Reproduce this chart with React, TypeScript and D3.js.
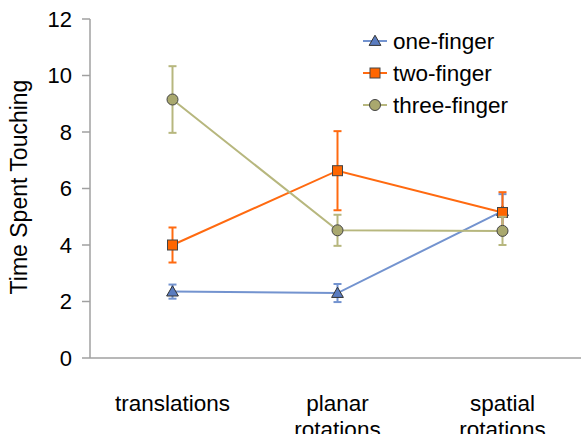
import React from "react";
import * as d3 from "d3";

const categories = ["translations", "planar rotations", "spatial rotations"];
const categoryLines = [["translations"], ["planar", "rotations"], ["spatial", "rotations"]];
const seriesNames = ["one-finger", "two-finger", "three-finger"];
const oneFinger = [2.35, 2.3, 5.2];
const oneFingerErr = [0.25, 0.32, 0.6];
const twoFinger = [4.0, 6.63, 5.15];
const twoFingerErr = [0.62, 1.4, 0.72];
const threeFinger = [9.15, 4.52, 4.5];
const threeFingerErr = [1.18, 0.55, 0.5];
const yTicks = [0, 2, 4, 6, 8, 10, 12];

const W = 581, H = 434;
const FONT = "'Liberation Sans', Arial, sans-serif";

const series = [
  { name: seriesNames[0], values: oneFinger, err: oneFingerErr, line: "#7393cf", fill: "#5a7cc0", shape: "triangle" },
  { name: seriesNames[1], values: twoFinger, err: twoFingerErr, line: "#ff6a10", fill: "#ff6600", shape: "square" },
  { name: seriesNames[2], values: threeFinger, err: threeFingerErr, line: "#b7b77e", fill: "#a9a86e", shape: "circle" },
];

function Marker({ shape, x, y, fill }: { shape: string; x: number; y: number; fill: string }) {
  if (shape === "square") return <rect x={x - 5} y={y - 5} width={10} height={10} fill={fill} stroke="#444" strokeWidth={1} />;
  if (shape === "circle") return <circle cx={x} cy={y} r={5.5} fill={fill} stroke="#444" strokeWidth={1} />;
  const s = d3.symbol(d3.symbolTriangle, 60)();
  return <path d={s || ""} transform={`translate(${x},${y + 1})`} fill={fill} stroke="#333" strokeWidth={1} />;
}

export default function App() {
  const x = d3.scaleBand().domain(categories).range([90, 585]).padding(0);
  const y = d3.scaleLinear().domain([0, 12]).range([358, 19]);
  const cx = (c: string) => (x(c) as number) + x.bandwidth() / 2;
  const line = d3.line<number>().x((_, i) => cx(categories[i])).y((v) => y(v));

  return (
    <svg width={W} height={H} style={{ position: "absolute", left: 0, top: 0, background: "#fff" }}>
      {/* axes */}
      <line x1={90} x2={581} y1={y(0)} y2={y(0)} stroke="#a0a0a0" strokeWidth={1.5} />
      <line x1={90} x2={90} y1={y(12)} y2={y(0)} stroke="#a0a0a0" strokeWidth={1.5} />
      {yTicks.map((t) => (
        <g key={t}>
          <line x1={82} x2={90} y1={y(t)} y2={y(t)} stroke="#a0a0a0" strokeWidth={1.5} />
          <text x={72} y={y(t)} dy="0.36em" textAnchor="end" fontFamily={FONT} fontSize={22} fill="#000">{t}</text>
        </g>
      ))}
      <text transform={`translate(27,187) rotate(-90)`} textAnchor="middle" fontFamily={FONT} fontSize={23} fill="#000">Time Spent Touching</text>
      {categories.map((c, i) => (
        <text key={c} x={cx(c)} y={411} textAnchor="middle" fontFamily={FONT} fontSize={22.5} fill="#000">
          {categoryLines[i].map((l, j) => (
            <tspan key={j} x={cx(c)} dy={j === 0 ? 0 : 26}>{l}</tspan>
          ))}
        </text>
      ))}
      {/* series */}
      {series.map((s) => (
        <g key={s.name}>
          <path d={line(s.values) || ""} fill="none" stroke={s.line} strokeWidth={2} />
          {s.values.map((v, i) => {
            const px = cx(categories[i]);
            return (
              <g key={i} stroke={s.line} strokeWidth={2}>
                <line x1={px} x2={px} y1={y(v + s.err[i])} y2={y(v - s.err[i])} />
                <line x1={px - 4} x2={px + 4} y1={y(v + s.err[i])} y2={y(v + s.err[i])} />
                <line x1={px - 4} x2={px + 4} y1={y(v - s.err[i])} y2={y(v - s.err[i])} />
              </g>
            );
          })}
          {s.values.map((v, i) => (
            <Marker key={"m" + i} shape={s.shape} x={cx(categories[i])} y={y(v)} fill={s.fill} />
          ))}
        </g>
      ))}
      {/* legend */}
      {series.map((s, i) => {
        const ly = 41 + i * 32;
        return (
          <g key={"lg" + s.name}>
            <line x1={363} x2={387} y1={ly} y2={ly} stroke={s.line} strokeWidth={2} />
            <Marker shape={s.shape} x={375} y={ly} fill={s.fill} />
            <text x={393} y={ly} dy="0.36em" fontFamily={FONT} fontSize={22.5} fill="#000">{s.name}</text>
          </g>
        );
      })}
    </svg>
  );
}
